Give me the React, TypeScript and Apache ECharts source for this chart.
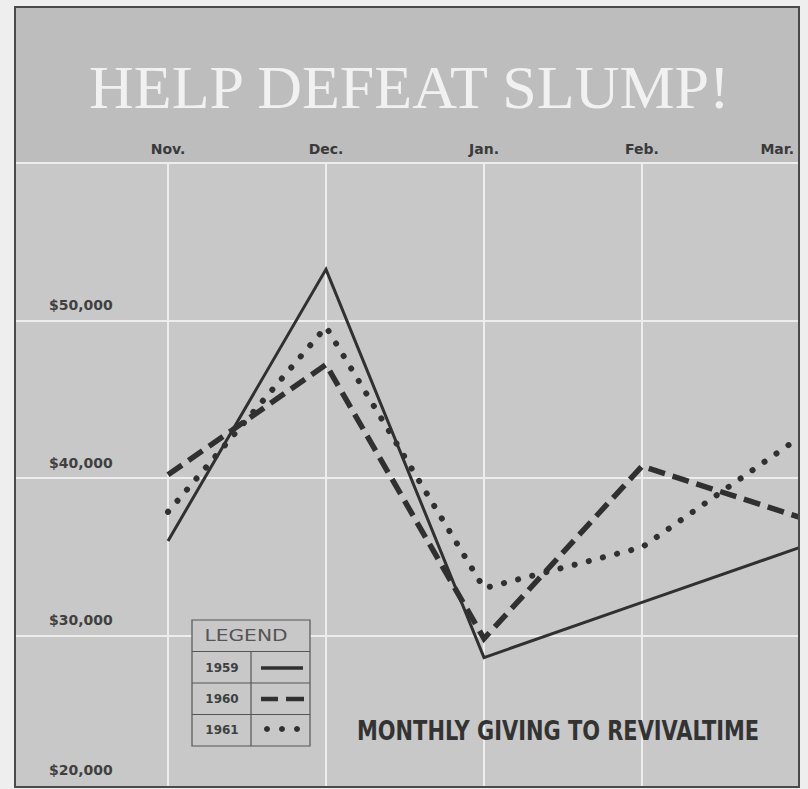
import React, { useEffect, useRef } from "react";
import * as echarts from "echarts";

const months = ["Nov.", "Dec.", "Jan.", "Feb.", "Mar."];
const giving1959 = [36000, 53250, 28600, 32100, 35600];
const giving1960 = [40200, 47200, 29800, 40750, 37500];
const giving1961 = [37850, 49600, 33000, 35600, 42600];
const yMin = 20000;
const yMax = 60000;
const yStep = 10000;
const legendYears = ["1959", "1960", "1961"];

const INK = "#303030";
const GRIDLINE = "#ededed";
const PAGE = "#eeeeee";

export default function App() {
  const ref = useRef<HTMLDivElement>(null);
  useEffect(() => {
    if (!ref.current) return;
    const chart = echarts.init(ref.current, null, { renderer: "svg" });
    const fmtMoney = (v: number) => "$" + v.toLocaleString("en-US");
    const labelFont = "'DejaVu Sans', sans-serif";
    const option: any = {
      animation: false,
      backgroundColor: PAGE,
      title: [
        {
          text: "HELP DEFEAT SLUMP!",
          left: 89,
          top: 56,
          padding: 0,
          textStyle: {
            fontFamily: "'Liberation Serif', 'Times New Roman', serif",
            fontSize: 62,
            lineHeight: 62,
            fontWeight: "normal",
            color: "#f1f1f1",
          },
        },
      ],
      grid: [
        { left: 168, right: 8, top: 163, bottom: 2 },
        { left: 15, right: 8, top: 163, bottom: 2 },
      ],
      xAxis: [
        {
          type: "category",
          gridIndex: 0,
          data: months,
          boundaryGap: false,
          position: "top",
          axisLine: { show: false },
          axisTick: { show: false },
          axisLabel: {
            margin: 7,
            alignMaxLabel: "right",
            fontFamily: labelFont,
            fontWeight: "bold",
            fontSize: 14,
            color: "#3a3a3a",
            formatter: (v: string, i: number) =>
              i === months.length - 1 ? `{m|${v}}` : v,
            rich: {
              m: {
                fontFamily: labelFont,
                fontWeight: "bold",
                fontSize: 14,
                color: "#3a3a3a",
                padding: [0, 6, 0, 0],
              },
            },
          },
          splitLine: { show: true, lineStyle: { color: GRIDLINE, width: 2 } },
        },
        { type: "value", gridIndex: 1, show: false, min: 0, max: 1 },
      ],
      yAxis: [
        {
          type: "value",
          gridIndex: 0,
          min: yMin,
          max: yMax,
          interval: yStep,
          show: false,
          splitLine: { show: false },
        },
        {
          type: "value",
          gridIndex: 1,
          min: yMin,
          max: yMax,
          interval: yStep,
          axisLine: { show: false },
          axisTick: { show: false },
          splitLine: { show: true, lineStyle: { color: GRIDLINE, width: 2 } },
          axisLabel: {
            inside: true,
            margin: 34,
            formatter: (v: number) => {
              if (v >= yMax) return "";
              return v === yMin ? `{b|${fmtMoney(v)}}` : `{a|${fmtMoney(v)}}`;
            },
            rich: {
              a: {
                fontFamily: labelFont,
                fontWeight: "bold",
                fontSize: 14,
                color: "#404040",
                padding: [0, 0, 31, 0],
              },
              b: {
                fontFamily: labelFont,
                fontWeight: "bold",
                fontSize: 14,
                color: "#404040",
                padding: [0, 0, 46, 0],
              },
            },
          },
        },
      ],
      series: [
        {
          name: legendYears[0],
          type: "line",
          xAxisIndex: 0,
          yAxisIndex: 0,
          data: giving1959,
          symbol: "none",
          lineStyle: { color: INK, width: 3, type: "solid", join: "miter" },
          z: 5,
        },
        {
          name: legendYears[1],
          type: "line",
          xAxisIndex: 0,
          yAxisIndex: 0,
          data: giving1960,
          symbol: "none",
          lineStyle: { color: INK, width: 5.5, type: [17, 8], join: "miter" },
          z: 5,
        },
        {
          name: legendYears[2],
          type: "line",
          xAxisIndex: 0,
          yAxisIndex: 0,
          data: giving1961,
          symbol: "none",
          lineStyle: { color: INK, width: 6, type: [0.1, 14.5], cap: "round" },
          z: 5,
        },
      ],
      graphic: [
        { type: "rect", z: -10, silent: true, shape: { x: 15, y: 7, width: 784, height: 156 }, style: { fill: "#bdbdbd" } },
        { type: "rect", z: -10, silent: true, shape: { x: 15, y: 163, width: 784, height: 624 }, style: { fill: "#c8c8c8" } },
        {
          type: "text",
          z: 40,
          x: 357,
          y: 731,
          scaleX: 0.895,
          style: {
            text: "MONTHLY GIVING TO REVIVALTIME",
            font: "bold 26px 'DejaVu Sans Condensed', 'DejaVu Sans', sans-serif",
            fill: "#333333",
            align: "left",
            verticalAlign: "middle",
          },
        },
        // legend table
        {
          type: "group",
          z: 50,
          children: [
            { type: "rect", z: 50, shape: { x: 192, y: 620, width: 118, height: 126 }, style: { fill: "#c8c8c8", stroke: "#555555", lineWidth: 1.2 } },
            { type: "line", z: 51, shape: { x1: 192, y1: 651.5, x2: 310, y2: 651.5 }, style: { stroke: "#555555", lineWidth: 1.2 } },
            { type: "line", z: 51, shape: { x1: 192, y1: 683, x2: 310, y2: 683 }, style: { stroke: "#555555", lineWidth: 1.2 } },
            { type: "line", z: 51, shape: { x1: 192, y1: 714.5, x2: 310, y2: 714.5 }, style: { stroke: "#555555", lineWidth: 1.2 } },
            { type: "line", z: 51, shape: { x1: 251, y1: 651.5, x2: 251, y2: 746 }, style: { stroke: "#555555", lineWidth: 1.2 } },
            { type: "text", z: 52, x: 246, y: 636, scaleX: 1.35, style: { text: "LEGEND", font: "15px 'DejaVu Sans', sans-serif", fill: "#555555", align: "center", verticalAlign: "middle" } },
            { type: "text", z: 52, x: 222, y: 668, style: { text: legendYears[0], font: "bold 12px 'DejaVu Sans', sans-serif", fill: "#404040", align: "center", verticalAlign: "middle" } },
            { type: "text", z: 52, x: 222, y: 699, style: { text: legendYears[1], font: "bold 12px 'DejaVu Sans', sans-serif", fill: "#404040", align: "center", verticalAlign: "middle" } },
            { type: "text", z: 52, x: 222, y: 730, style: { text: legendYears[2], font: "bold 12px 'DejaVu Sans', sans-serif", fill: "#404040", align: "center", verticalAlign: "middle" } },
            { type: "line", z: 52, shape: { x1: 261, y1: 668, x2: 303, y2: 668 }, style: { stroke: INK, lineWidth: 3.5 } },
            { type: "line", z: 52, shape: { x1: 261, y1: 699, x2: 278, y2: 699 }, style: { stroke: INK, lineWidth: 4.5 } },
            { type: "line", z: 52, shape: { x1: 286, y1: 699, x2: 304, y2: 699 }, style: { stroke: INK, lineWidth: 4.5 } },
            { type: "circle", z: 52, shape: { cx: 267, cy: 729, r: 3 }, style: { fill: INK } },
            { type: "circle", z: 52, shape: { cx: 282, cy: 729, r: 3 }, style: { fill: INK } },
            { type: "circle", z: 52, shape: { cx: 297, cy: 729, r: 3 }, style: { fill: INK } },
          ],
        },
        // frame and page edge
        { type: "rect", z: 100, silent: true, shape: { x: 0, y: 788, width: 808, height: 12 }, style: { fill: PAGE } },
        { type: "rect", z: 100, silent: true, shape: { x: 800, y: 0, width: 8, height: 800 }, style: { fill: PAGE } },
        { type: "rect", z: 101, silent: true, shape: { x: 15, y: 7, width: 784, height: 780 }, style: { fill: "none", stroke: "#4a4a4a", lineWidth: 2 } },
      ],
    };
    chart.setOption(option);
    return () => chart.dispose();
  }, []);
  return (
    <div
      ref={ref}
      style={{ position: "fixed", left: 0, top: 0, width: 808, height: 795 }}
    />
  );
}
